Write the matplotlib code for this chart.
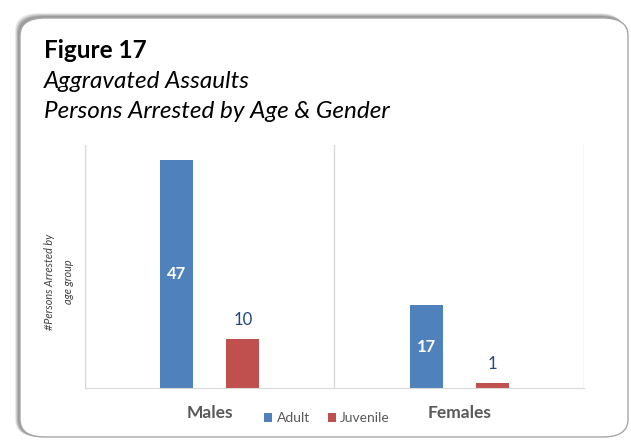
import numpy as np
import matplotlib.pyplot as plt
from matplotlib.patches import FancyBboxPatch

# data
groups = ["Males", "Females"]
adult = [47, 17]
juvenile = [10, 1]
series_names = ["Adult", "Juvenile"]

blue = "#4F81BD"
red = "#C0504D"
plt.rcParams['font.family'] = ['Lato', 'DejaVu Sans']

W, H = 631, 440
fig = plt.figure(figsize=(W/100, H/100), dpi=100)

# card with shadow
for off, a in [(5, 0.15), (4, 0.25), (3, 0.35), (2, 0.45)]:
    sh = FancyBboxPatch((20/W - off/W, 1 - 437/H), (628-20)/W, (437-18)/H + off/H,
                        boxstyle="round,pad=0,rounding_size=0.04", transform=fig.transFigure,
                        facecolor="#7f7f7f", edgecolor="none", alpha=a, zorder=0)
    fig.patches.append(sh)
card = FancyBboxPatch((20/W, 1 - 437/H), (628-20)/W, (437-18)/H,
                      boxstyle="round,pad=0,rounding_size=0.04", transform=fig.transFigure,
                      facecolor="white", edgecolor="#a6a6a6", linewidth=1, zorder=1)
fig.patches.append(card)

fig.text(44/W, 1 - 50/H, "Figure 17", fontsize=17.5, fontweight="bold", va="center", ha="left")
fig.text(44/W, 1 - 82/H, "Aggravated Assaults", fontsize=17.5, style="italic", va="center", ha="left")
fig.text(44/W, 1 - 112/H, "Persons Arrested by Age & Gender", fontsize=17.5, style="italic",
         va="center", ha="left")

ax = fig.add_axes([85/W, 1 - 388/H, (584-85)/W, (388-145)/H])
ax.set_zorder(2)
ax.patch.set_alpha(0)
x = np.arange(len(groups))
bw = 0.133
b1 = ax.bar(x - 0.1325, adult, bw, color=blue, label=series_names[0])
b2 = ax.bar(x + 0.1325, juvenile, bw, color=red, label=series_names[1])

for r, v in zip(b1, adult):
    ax.text(r.get_x() + r.get_width()/2, v/2, str(v), color="white", fontsize=12,
            fontweight="bold", ha="center", va="center")
for r, v in zip(b2, juvenile):
    ax.annotate(str(v), (r.get_x() + r.get_width()/2, v), xytext=(0, 14),
                textcoords="offset points", color="#1F497D", fontsize=12,
                ha="center", va="center")

ax.set_xlim(-0.5, 1.5)
ax.set_ylim(0, 50)
ax.set_yticks([])
ax.set_xticks(x)
ax.set_xticklabels(groups, fontsize=12.5, fontweight="bold", color="#595959")
ax.tick_params(axis="x", length=0, pad=12)
ax.set_xticks([-0.5, 0.5, 1.5], minor=True)
ax.tick_params(axis="x", which="minor", length=0)
ax.grid(which="minor", axis="x", color="#d9d9d9", linewidth=1)
ax.set_axisbelow(True)
for s in ["top", "right"]:
    ax.spines[s].set_visible(False)
ax.spines["left"].set_color("#d9d9d9")
ax.spines["bottom"].set_color("#d9d9d9")

fig.text(59/W, 1 - 282/H, "#Persons Arrested by\nage group", rotation=90, fontsize=7.8,
         style="italic", ha="center", va="center", color="#404040", linespacing=1.9)

fig.legend(handles=[b1, b2], labels=series_names, loc="center",
           bbox_to_anchor=(327/W, 1 - 418/H), ncol=2, frameon=False, fontsize=10,
           handlelength=0.6, handleheight=0.6, handletextpad=0.3, columnspacing=1.3,
           labelcolor="#595959")

fig.savefig("out.png", dpi=100)
